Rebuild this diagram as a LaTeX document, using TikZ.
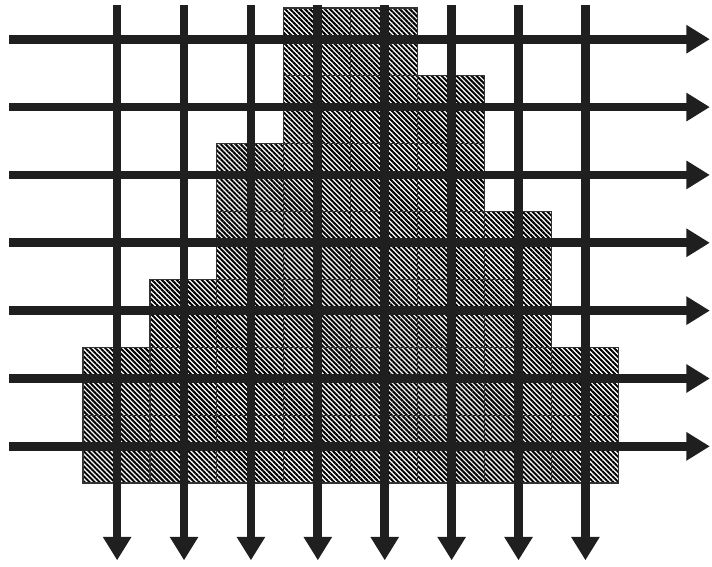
\documentclass[tikz,border=0pt]{standalone}
\usepackage{tikz}
\usetikzlibrary{arrows.meta,patterns.meta}

\tikzset{
    cell/.style={draw=black!80, line width=0.5pt, pattern={Lines[angle=-45,distance=1.5pt,line width=0.85pt]}},
    flow/.style={draw=black!88, line width=3.7pt, -{Triangle[width=11.5pt,length=10pt]}}
}

\begin{document}
\begin{tikzpicture}[x=1cm,y=1.0143cm]
    \useasboundingbox (-1.241,-1.238) rectangle (9.402,7.118);
    
    % column of cells, column index / height
    \foreach \c/\h in {0/2,1/3,2/5,3/7,4/7,5/6,6/4,7/2} {
        \foreach \r in {1,...,\h} {
            \draw[cell] (\c,\r-1) rectangle (\c+1,\r);
        }
    }
    
    \foreach \r in {0,...,6} {
        \coordinate (row\r W) at (-1.10,\r+0.54); \coordinate (row\r E) at (9.37,\r+0.54);
        \draw[flow] (row\r W) -- (row\r E);
    }
    
    \foreach \c in {0,...,7} {
        \coordinate (col\c N) at (\c+0.51,7.04); \coordinate (col\c S) at (\c+0.51,-1.14);
        \draw[flow] (col\c N) -- (col\c S);
    }
\end{tikzpicture}
\end{document}
